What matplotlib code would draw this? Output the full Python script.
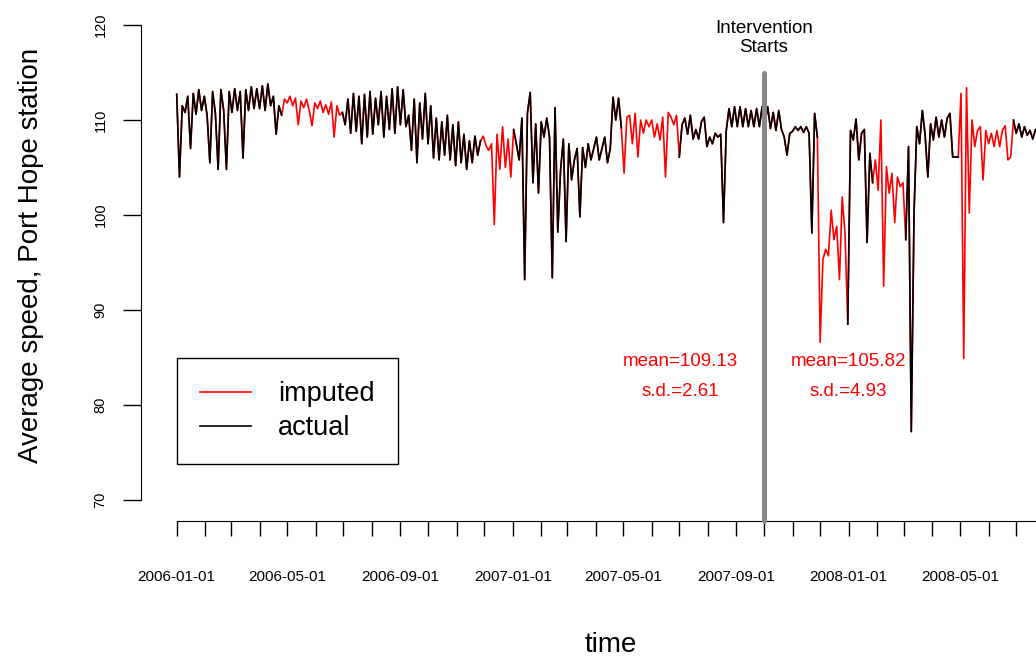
import numpy as np
import pandas as pd
import matplotlib
matplotlib.use("Agg")
import matplotlib.pyplot as plt
import matplotlib.dates as mdates
from matplotlib.lines import Line2D

plt.rcParams["font.family"] = ["Liberation Sans", "DejaVu Sans"]

speed_2006 = [
    112.7, 104.0, 111.5, 110.8, 112.5, 107.0, 112.8, 110.6, 113.2, 111.0,
    112.5, 110.5, 105.5, 113.0, 110.7, 104.8, 113.2, 111.0, 104.8, 113.0,
    110.8, 113.3, 111.0, 113.0, 106.0, 113.2, 111.0, 113.5, 111.2, 113.3,
    111.2, 113.6, 111.0, 113.8, 111.5, 112.5, 108.5, 111.5, 110.5,
    112.2, 111.8, 112.5, 111.5, 112.3, 109.5, 112.0, 111.3, 112.2, 111.0,
    109.4, 111.8, 111.2, 112.0, 110.8, 111.6, 110.6, 111.9, 108.2, 111.5, 110.5,
    110.8, 109.5, 112.2, 108.6, 112.8, 108.8, 112.5, 107.5, 112.7, 108.2,
    113.0, 108.5, 112.3, 109.5, 113.0, 108.2, 112.5, 109.0, 113.3, 108.6,
    113.5, 109.5, 113.2, 109.3, 110.5, 106.8, 112.2, 105.5, 111.8, 108.0,
    112.8, 107.5, 111.5, 106.0, 110.2, 105.8, 109.8, 106.3, 110.5, 105.8,
    109.5, 105.2, 109.8, 105.5, 108.5, 104.8, 107.8, 105.5, 108.3, 106.3,
    107.8,
    108.3, 107.3, 106.8, 107.5, 99.0, 108.5, 104.8, 109.3, 105.0, 108.0, 104.0,
]
speed_2007 = [
    109.0, 107.5, 105.8, 110.2, 93.2, 110.7, 112.9, 103.4, 109.6, 102.3,
    109.8, 108.2, 110.2, 108.2, 93.4, 111.3, 98.2, 104.7, 108.0, 97.2,
    107.5, 103.7, 105.8, 107.0, 99.8, 107.1, 105.0, 107.5, 105.8, 107.0,
    108.2, 105.8, 107.0, 108.2, 105.5, 107.0, 112.4, 110.0, 112.3, 109.2,
    104.4, 110.3, 110.5, 107.5, 110.7, 106.1, 110.0, 108.6, 110.0, 109.3,
    110.0, 108.2, 109.6, 107.9, 110.3, 104.0, 110.8, 110.3, 109.5, 110.5,
    106.1, 109.5, 110.2, 108.5, 110.5, 108.0, 109.0, 108.0, 109.8, 110.3,
    107.2, 108.2, 107.5, 108.6, 108.2, 108.5, 99.2, 108.9, 111.2, 109.3,
    111.4, 109.3, 111.4, 109.3, 111.2, 109.3, 111.0, 109.3, 111.2, 109.3,
    111.4, 109.6, 111.4, 109.1, 110.8, 108.9, 111.0, 109.0, 108.2, 106.3,
    108.6, 108.8, 109.3, 108.9, 109.3, 108.7, 109.3, 108.6, 98.1, 110.7,
    108.2,
    86.6, 95.3, 96.4, 95.7, 100.5, 97.4, 98.8, 93.2, 101.9, 98.1,
    88.5,
]
speed_2008 = [
    108.9, 107.9, 110.1, 105.8, 108.6, 109.0, 97.1, 106.5, 103.4,
    105.8, 102.6, 110.0, 92.5, 105.1, 102.3, 104.4, 99.2, 104.0, 103.0, 103.4,
    97.4, 107.2, 77.2, 100.2, 109.3, 107.5, 111.0, 108.5, 104.0, 109.6,
    107.9, 110.3, 108.2, 110.0, 108.2, 110.2, 110.7, 106.1, 106.1, 106.1,
    112.8, 84.9, 113.4, 100.2, 110.0, 107.2, 108.9, 109.3, 103.7, 108.9,
    107.5, 108.6, 107.2, 108.9, 107.2, 108.9, 109.4, 105.8, 106.1,
    110.0, 108.6, 109.6, 108.2, 109.3, 108.4, 108.9, 108.0, 109.0, 108.5,
]

imputed_start = ["2006-04-28", "2006-11-30", "2007-05-02", "2007-12-01", "2008-01-30", "2008-05-02"]
imputed_end = ["2006-06-27", "2006-12-30", "2007-06-28", "2007-12-28", "2008-02-29", "2008-06-25"]

intervention = "2007-10-01"
y_ticks = [70, 80, 90, 100, 110, 120]
x_label_months = ["2006-01-01", "2006-05-01", "2006-09-01", "2007-01-01",
                  "2007-05-01", "2007-09-01", "2008-01-01", "2008-05-01"]
stats_text = [("2007-07-02", "mean=109.13", "s.d.=2.61"),
              ("2008-01-01", "mean=105.82", "s.d.=4.93")]

speed = np.array(speed_2006 + speed_2007 + speed_2008)
dates = pd.date_range("2006-01-01", periods=len(speed), freq="3D")

imputed = np.zeros(len(speed), dtype=bool)
for s, e in zip(imputed_start, imputed_end):
    imputed |= (dates >= pd.Timestamp(s)) & (dates <= pd.Timestamp(e))
actual = np.where(imputed, np.nan, speed)

W, H = 1036, 656
fig = plt.figure(figsize=(W / 100, H / 100), dpi=100)
ax = fig.add_axes([141 / W, 1 - 521 / H, (W - 141) / W, (521 - 25) / H])

ax.plot(dates, speed, color="red", lw=1.2)
ax.plot(dates, actual, color="black", lw=1.2)

start = mdates.date2num(pd.Timestamp("2006-01-01"))
ax.set_xlim(start - 38.8, start + 933.5)
ybot = 70 - 21 / 9.5
ax.set_ylim(ybot, 120)

# intervention marker
xi = pd.Timestamp(intervention)
ax.plot([xi, xi], [ybot, 115], color="#888888", lw=3.6, solid_capstyle="round",
        clip_on=False, zorder=5)
ax.text(xi, 119.65, "Intervention", ha="center", va="center", fontsize=13.5)
ax.text(xi, 117.65, "Starts", ha="center", va="center", fontsize=13.5)

for d, m, s in stats_text:
    ax.text(pd.Timestamp(d), 84.56, m, color="red", ha="center", va="center", fontsize=13.5)
    ax.text(pd.Timestamp(d), 81.47, s, color="red", ha="center", va="center", fontsize=13.5)

# R-like axes
for side in ["top", "right"]:
    ax.spines[side].set_visible(False)
ax.spines["left"].set_bounds(70, 120)
ax.spines["bottom"].set_bounds(start, start + 933.5)

ax.set_yticks(y_ticks)
ax.set_yticklabels([str(v) for v in y_ticks], rotation=90, va="center", fontsize=10.5)
ax.tick_params(axis="y", length=13, width=1, pad=11)

months = pd.date_range("2006-01-01", "2008-07-01", freq="MS")
ax.set_xticks(months)
ax.set_xticklabels([m.strftime("%Y-%m-%d") if m.strftime("%Y-%m-%d") in x_label_months else ""
                    for m in months], fontsize=11)
ax.tick_params(axis="x", length=11, width=1, pad=24)

fig.text(611 / W, 1 - 645 / H, "time", ha="center", va="center", fontsize=20)
fig.text(31 / W, 1 - 255 / H, "Average speed, Port Hope station", rotation=90,
         ha="center", va="center", fontsize=20)

handles = [Line2D([0], [0], color="red", lw=1.2), Line2D([0], [0], color="black", lw=1.2)]
leg = fig.legend(handles, ["imputed", "actual"], loc="upper left",
                 bbox_to_anchor=(176.7 / W, 1 - 358.3 / H), borderaxespad=0,
                 fontsize=19.5, frameon=True, fancybox=False, edgecolor="black",
                 framealpha=1, handlelength=1.9, handletextpad=1.0,
                 borderpad=0.85, labelspacing=0.3)
leg.get_frame().set_linewidth(1.0)

fig.savefig("out.png", dpi=100)
